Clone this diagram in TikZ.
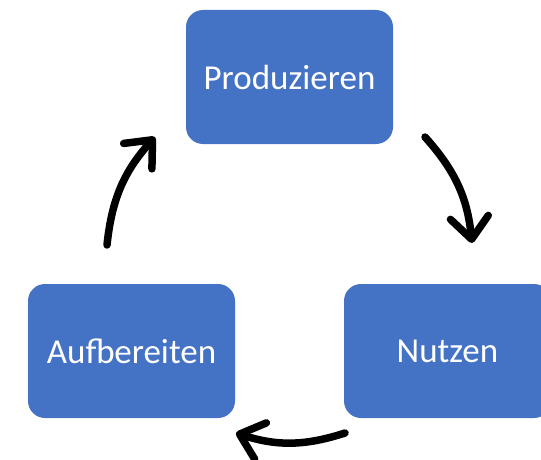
\documentclass[tikz,border=0pt]{standalone}
\usepackage{fontspec}
\setmainfont{Carlito}
\usetikzlibrary{arrows.meta}
\definecolor{boxblue}{HTML}{4472C4}
\tikzset{
  stagebox/.style={fill=boxblue, draw=none, rounded corners=17pt, minimum width=207pt, minimum height=134pt, text=white, font=\fontsize{35}{42}\selectfont, inner sep=0pt},
  cyclearrow/.style={line width=7.5pt, line cap=round, -{Straight Barb[length=22pt,width=38pt,round]}}
}
\begin{document}
\begin{tikzpicture}[x=1pt,y=1pt]
\useasboundingbox (0,0) rectangle (541,459);
\clip (0,0) rectangle (541,459);
\node[stagebox] (prod) at (289.5,382) {Produzieren};
\node[stagebox] (nutz) at (447.5,108) {Nutzen};
\node[stagebox] (aufb) at (131.5,108) {Aufbereiten};
\coordinate (a1s) at (107,214);
\coordinate (a1e) at (155,322);
\coordinate (a2s) at (425,322);
\coordinate (a2e) at (472,216);
\coordinate (a3s) at (345,26);
\coordinate (a3e) at (236,26);
\draw[cyclearrow] (a1s) to[bend left=18] (a1e);
\draw[cyclearrow] (a2s) to[bend left=18] (a2e);
\draw[cyclearrow] (a3s) to[bend left=18] (a3e);
\end{tikzpicture}
\end{document}
